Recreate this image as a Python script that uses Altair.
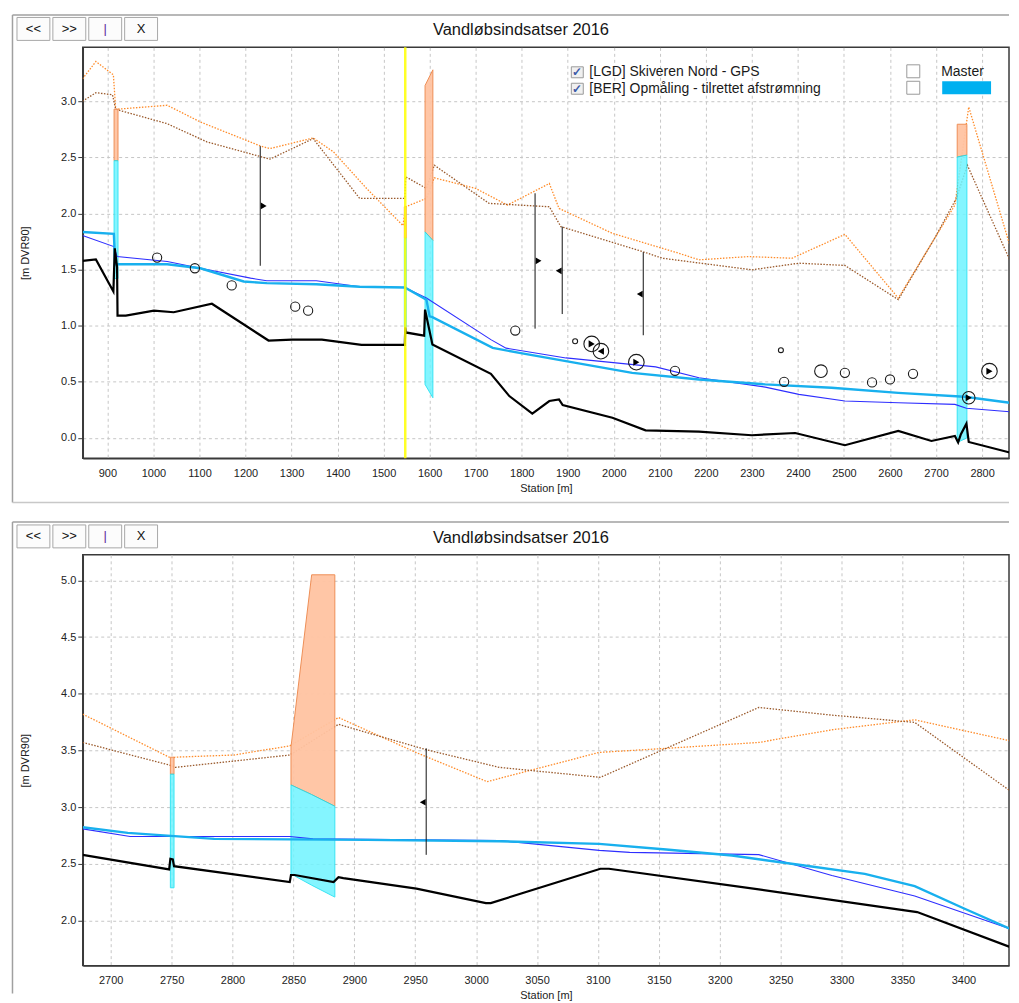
import altair as alt
import pandas as pd

# ---------------- texts ----------------
TITLE = "Vandløbsindsatser 2016"
BUTTON_LABELS = ["<<", ">>", "|", "X"]
LEGEND_LABELS = ["[LGD] Skiveren Nord - GPS", "[BER] Opmåling - tilrettet afstrømning"]
MASTER_LABEL = "Master"
X_TITLE = "Station [m]"
Y_TITLE = "[m DVR90]"

# ---------------- top panel data ----------------
T_XDOM = [846.5, 2858.5]
T_YDOM = [-0.18, 3.48]
T_XTICKS = [900, 1000, 1100, 1200, 1300, 1400, 1500, 1600, 1700, 1800, 1900, 2000,
            2100, 2200, 2300, 2400, 2500, 2600, 2700, 2800]
T_YTICKS = [0.0, 0.5, 1.0, 1.5, 2.0, 2.5, 3.0]

T_BED_X = [846, 875, 913, 916, 921, 922, 940, 1001, 1044, 1127, 1250, 1301, 1366, 1452,
           1546, 1547, 1548, 1588, 1590, 1606, 1733, 1773, 1823, 1860, 1881, 1889, 1997,
           2069, 2185, 2300, 2394, 2502, 2618, 2690, 2741, 2748, 2754, 2766, 2771, 2860]
T_BED_Y = [1.578, 1.59, 1.305, 1.69, 1.52, 1.09, 1.09, 1.134, 1.12, 1.196, 0.868, 0.876,
           0.876, 0.829, 0.829, 0.986, 0.94, 0.912, 1.143, 0.832, 0.571, 0.373, 0.216,
           0.329, 0.344, 0.293, 0.18, 0.068, 0.056, 0.024, 0.044, -0.065, 0.062, -0.027,
           0.018, -0.04, 0.033, 0.127, -0.036, -0.13]

T_WL_X = [846, 914, 917, 1030, 1102, 1196, 1246, 1354, 1448, 1546, 1593, 1600, 1606,
          1737, 1795, 1896, 2040, 2185, 2329, 2473, 2618, 2762, 2860]
T_WL_Y = [1.835, 1.818, 1.548, 1.548, 1.512, 1.394, 1.379, 1.37, 1.347, 1.341, 1.232,
          1.083, 1.077, 0.802, 0.758, 0.684, 0.58, 0.521, 0.477, 0.447, 0.402, 0.367, 0.314]

T_WL2_X = [846, 914, 921, 1030, 1102, 1211, 1246, 1354, 1445, 1546, 1593, 1733, 1766,
           1896, 2091, 2185, 2329, 2402, 2502, 2618, 2741, 2766, 2860]
T_WL2_Y = [1.803, 1.705, 1.616, 1.572, 1.512, 1.424, 1.40, 1.40, 1.35, 1.341, 1.246,
           0.876, 0.80, 0.713, 0.633, 0.536, 0.453, 0.388, 0.329, 0.314, 0.299, 0.264, 0.234]

T_BANKL_X = [846, 875, 913, 918, 1030, 1102, 1232, 1253, 1347, 1391, 1463, 1542, 1548,
             1593, 1610, 1700, 1769, 1860, 1881, 1997, 2141, 2185, 2293, 2387, 2502, 2618,
             2697, 2741, 2771, 2860]
T_BANKL_Y = [3.20, 3.354, 3.235, 2.928, 2.964, 2.815, 2.602, 2.578, 2.673, 2.549, 2.223,
             1.892, 2.06, 2.134, 2.318, 2.223, 2.075, 2.267, 2.045, 1.823, 1.646, 1.587,
             1.616, 1.601, 1.814, 1.246, 1.779, 2.075, 2.949, 1.72]

T_BANKR_X = [846, 875, 911, 918, 1030, 1116, 1253, 1347, 1448, 1546, 1548, 1593, 1610,
             1729, 1860, 1885, 2062, 2106, 2300, 2402, 2502, 2618, 2697, 2744, 2768, 2860]
T_BANKR_Y = [3.0, 3.076, 3.058, 2.928, 2.80, 2.638, 2.484, 2.667, 2.134, 2.134, 2.327,
             2.223, 2.43, 2.09, 2.06, 1.883, 1.661, 1.601, 1.498, 1.557, 1.537, 1.232,
             1.779, 2.134, 2.43, 1.587]

T_BAND_ID = [1, 1, 2, 2, 3, 3, 4, 4]
T_BAND_X = [914.5, 923, 1545, 1549, 1590, 1607, 2746, 2767]
T_BAND_TOP = [2.93, 2.93, 2.06, 2.06, 3.14, 3.28, 2.795, 2.795]
T_BAND_MID = [2.47, 2.47, 1.78, 1.78, 1.836, 1.76, 2.504, 2.52]
T_BAND_BOT = [1.42, 1.42, 0.99, 0.99, 0.477, 0.358, -0.04, 0.0]

T_FLAG_X = [1232, 1829, 1888, 2064]
T_FLAG_TOP = [2.60, 2.18, 1.883, 1.655]
T_FLAG_BOT = [1.534, 0.974, 1.104, 0.915]
T_FLAG_Y = [2.067, 1.578, 1.489, 1.282]
T_FLAG_DIR = ["R", "R", "L", "L"]

T_PT_X = [1008, 1090, 1170, 1308, 1336, 1786, 1916, 1952, 1972, 2049, 2133, 2363, 2370,
          2450, 2502, 2561, 2600, 2650, 2771, 2816]
T_PT_Y = [1.607, 1.512, 1.359, 1.17, 1.134, 0.957, 0.861, 0.838, 0.773, 0.675, 0.598,
          0.782, 0.50, 0.595, 0.58, 0.495, 0.521, 0.571, 0.358, 0.595]
T_PT_MAG = [2, 2, 2, 2, 2, 2, 1, 4, 4, 4, 2, 1, 2, 3, 2, 2, 2, 2, 3, 4]
T_PT_DIR = ["", "", "", "", "", "", "", "R", "L", "R", "", "", "", "", "", "", "", "",
            "R", "R"]

T_YELLOW_X = [1547]

# ---------------- bottom panel data ----------------
B_XDOM = [2677.1, 3437.4]
B_YDOM = [1.6, 5.226]
B_XTICKS = [2700, 2750, 2800, 2850, 2900, 2950, 3000, 3050, 3100, 3150, 3200, 3250,
            3300, 3350, 3400]
B_YTICKS = [2.0, 2.5, 3.0, 3.5, 4.0, 4.5, 5.0]

B_BED_X = [2677, 2748, 2749, 2751, 2752, 2847, 2848, 2851, 2883, 2887, 2891, 2951, 3008,
           3012, 3102, 3109, 3232, 3362, 3438]
B_BED_Y = [2.578, 2.449, 2.543, 2.537, 2.478, 2.337, 2.40, 2.40, 2.337, 2.381, 2.373,
           2.28, 2.152, 2.152, 2.455, 2.455, 2.273, 2.073, 1.765]

B_WL_X = [2677, 2714, 2785, 2910, 3019, 3101, 3156, 3210, 3265, 3319, 3360, 3401, 3438]
B_WL_Y = [2.822, 2.772, 2.719, 2.71, 2.698, 2.675, 2.625, 2.572, 2.49, 2.41, 2.302,
          2.102, 1.926]

B_WL2_X = [2677, 2716, 2847, 2866, 3019, 3101, 3126, 3232, 3292, 3360, 3438]
B_WL2_Y = [2.807, 2.74, 2.74, 2.719, 2.704, 2.617, 2.60, 2.58, 2.396, 2.214, 1.926]

B_BANKL_X = [2677, 2750, 2753, 2801, 2847, 2887, 2951, 3009, 3101, 3156, 3232, 3292,
             3360, 3438]
B_BANKL_Y = [3.82, 3.43, 3.44, 3.459, 3.54, 3.79, 3.48, 3.224, 3.482, 3.518, 3.57,
             3.682, 3.77, 3.585]

B_BANKR_X = [2677, 2750, 2753, 2847, 2887, 2959, 3019, 3102, 3232, 3292, 3360, 3438]
B_BANKR_Y = [3.57, 3.365, 3.35, 3.459, 3.73, 3.506, 3.35, 3.262, 3.879, 3.811, 3.747,
             3.145]

B_BAND_ID = [1, 1, 2, 2, 2]
B_BAND_X = [2749, 2752, 2848, 2865, 2884]
B_BAND_TOP = [3.44, 3.44, 3.53, 5.05, 5.05]
B_BAND_MID = [3.29, 3.29, 3.195, 3.11, 3.007]
B_BAND_BOT = [2.287, 2.287, 2.41, 2.31, 2.205]

B_FLAG_X = [2959]
B_FLAG_TOP = [3.518]
B_FLAG_BOT = [2.578]
B_FLAG_Y = [3.042]
B_FLAG_DIR = ["L"]

# ---------------- styles ----------------
FONT = "Liberation Sans"
W, H = 929, 412
C_BED = "#000000"
C_WL = "#18b0ee"
C_WL2 = "#2e2eff"
C_BANKL = "#ff8c2a"
C_BANKR = "#9a5a2c"
C_BAND_O = "#ffc3a2"
C_BAND_O_S = "#ee8a4e"
C_BAND_C = "#6ff4ff"
C_BAND_C_S = "#16e0f2"
C_FRAME = "#a0a0a0"
C_AXIS = "#3a3a3a"

ONE = pd.DataFrame({"k": [0]})


def deco_rule(x, y, x2=None, y2=None, color=C_FRAME, width=1.5):
    enc = {"x": alt.value(x), "y": alt.value(y)}
    if x2 is not None:
        enc["x2"] = alt.value(x2)
    if y2 is not None:
        enc["y2"] = alt.value(y2)
    return alt.Chart(ONE).mark_rule(color=color, strokeWidth=width).encode(**enc)


def deco_rect(x, x2, y, y2, fill, stroke=None, sw=1):
    kw = {"fill": fill}
    if stroke is not None:
        kw["stroke"] = stroke
        kw["strokeWidth"] = sw
    return alt.Chart(ONE).mark_rect(**kw).encode(
        x=alt.value(x), x2=alt.value(x2), y=alt.value(y), y2=alt.value(y2))


def deco_text(txt, x, y, size, color="#111111", align="center", weight="normal"):
    return alt.Chart(ONE).mark_text(
        text=txt, align=align, baseline="middle", font=FONT, fontSize=size,
        color=color, fontWeight=weight).encode(x=alt.value(x), y=alt.value(y))


def line_df(xs, ys):
    return pd.DataFrame({"x": xs, "y": ys, "i": list(range(len(xs)))})


def panel(p, with_legend, frame_bottom):
    xs = alt.Scale(domain=p["xdom"], nice=False, zero=False)
    ys = alt.Scale(domain=p["ydom"], nice=False, zero=False)
    xax = alt.Axis(values=p["xticks"], title=X_TITLE, ticks=False, tickSize=0,
                   labelPadding=9, titlePadding=4, format="d", labelFlush=False,
                   labelOverlap=False)
    yax = alt.Axis(values=p["yticks"], title=Y_TITLE, format=".1f", tickSize=5,
                   labelPadding=2, titlePadding=30, labelFlush=False)

    def X(f="x"):
        return alt.X(f"{f}:Q", scale=xs, axis=xax)

    def Y(f="y"):
        return alt.Y(f"{f}:Q", scale=ys, axis=yax)

    layers = []
    # frame
    ftop = p["frame_top"]
    layers.append(deco_rule(-70.5, ftop, x2=W, color=C_FRAME))
    layers.append(deco_rule(-70.5, ftop, y2=frame_bottom, color=C_FRAME))
    if p["draw_frame_bottom"]:
        layers.append(deco_rule(-70.5, frame_bottom, x2=W, color="#c8c8c8"))
    # buttons
    bx = [-66, -30, 6, 42]
    for lbl, x0 in zip(BUTTON_LABELS, bx):
        layers.append(deco_rect(x0, x0 + 33, -30, -7, "#fcfcfc", "#a8a8a8", 1))
        layers.append(deco_text(lbl, x0 + 16.5, -18.5, 13,
                                color="#5a2a9a" if lbl == "|" else "#111111"))
    # title
    layers.append(deco_text(TITLE, 439.5, -17, 16.5, color="#151515"))
    # legend
    if with_legend:
        for k, lbl in enumerate(LEGEND_LABELS):
            yc = 25 + 16.5 * k
            layers.append(deco_rect(490, 502, yc - 5.5, yc + 5.5, "#f0f0f0", "#9a9a9a", 1))
            layers.append(deco_text("✓", 496, yc, 12, color="#3a5aa8", weight="bold"))
            layers.append(deco_text(lbl, 508, yc, 14, color="#1a1a1a", align="left"))
            layers.append(deco_rect(826.5, 839.5, yc - 7.5, yc + 5.5,
                                    "#ffffff", "#9a9a9a", 1))
        layers.append(deco_text(MASTER_LABEL, 861, 24.5, 14, color="#1a1a1a", align="left"))
        layers.append(deco_rect(862, 911, 34, 47, "#00b0f0"))

    # bank lines (dotted)
    for bx_, by_, col in [(p["bankl_x"], p["bankl_y"], C_BANKL),
                          (p["bankr_x"], p["bankr_y"], C_BANKR)]:
        layers.append(alt.Chart(line_df(bx_, by_)).mark_line(
            color=col, strokeWidth=1.3, strokeDash=[1.5, 1.5], clip=True).encode(
            x=X(), y=Y(), order="i:Q"))

    # bands
    bdf = pd.DataFrame({"band": p["band_id"], "x": p["band_x"], "top": p["band_top"],
                        "mid": p["band_mid"], "bot": p["band_bot"]})
    layers.append(alt.Chart(bdf).mark_area(
        fill=C_BAND_O, stroke=C_BAND_O_S, strokeWidth=1, opacity=0.95, clip=True).encode(
        x=X(), y=Y("top"), y2="mid:Q", detail="band:N"))
    layers.append(alt.Chart(bdf).mark_area(
        fill=C_BAND_C, stroke=C_BAND_C_S, strokeWidth=1, opacity=0.85, clip=True).encode(
        x=X(), y=Y("mid"), y2="bot:Q", detail="band:N"))

    # water levels
    layers.append(alt.Chart(line_df(p["wl2_x"], p["wl2_y"])).mark_line(
        color=C_WL2, strokeWidth=1.1, clip=True).encode(x=X(), y=Y(), order="i:Q"))
    layers.append(alt.Chart(line_df(p["wl_x"], p["wl_y"])).mark_line(
        color=C_WL, strokeWidth=2.4, clip=True).encode(x=X(), y=Y(), order="i:Q"))
    # bed
    layers.append(alt.Chart(line_df(p["bed_x"], p["bed_y"])).mark_line(
        color=C_BED, strokeWidth=2.2, clip=True).encode(x=X(), y=Y(), order="i:Q"))

    # yellow marker
    if p.get("yellow_x"):
        layers.append(alt.Chart(pd.DataFrame({"x": p["yellow_x"]})).mark_rule(
            color="#ffff00", strokeWidth=2.5, opacity=0.85).encode(x=X()))

    # flags
    fdf = pd.DataFrame({"x": p["flag_x"], "top": p["flag_top"], "bot": p["flag_bot"],
                        "y": p["flag_y"], "dir": p["flag_dir"]})
    layers.append(alt.Chart(fdf).mark_rule(color="#111111", strokeWidth=1).encode(
        x=X(), y=Y("top"), y2="bot:Q"))
    for d, shape, off in [("R", "triangle-right", 3.5), ("L", "triangle-left", -3.5)]:
        sub = fdf[fdf["dir"] == d]
        if len(sub):
            layers.append(alt.Chart(sub).mark_point(
                shape=shape, filled=True, color="#000000", size=45, xOffset=off,
                opacity=1).encode(x=X(), y=Y()))

    # circles
    if p.get("pt_x"):
        pdf = pd.DataFrame({"x": p["pt_x"], "y": p["pt_y"], "m": p["pt_mag"],
                            "dir": p["pt_dir"]})
        layers.append(alt.Chart(pdf).mark_point(
            shape="circle", filled=False, color="#1a1a1a", strokeWidth=1.1,
            opacity=1).encode(
            x=X(), y=Y(),
            size=alt.Size("m:Q", scale=alt.Scale(type="linear", domain=[1, 2, 3, 4],
                                                 range=[25, 85, 160, 245]), legend=None)))
        adf = pdf[pdf["dir"] != ""]
        layers.append(alt.Chart(adf).mark_point(
            filled=True, color="#000000", size=50, opacity=1).encode(
            x=X(), y=Y(),
            shape=alt.Shape("dir:N", scale=alt.Scale(domain=["R", "L"],
                                                     range=["triangle-right", "triangle-left"]),
                            legend=None)))

    return alt.layer(*layers).properties(width=W, height=H)


TOP = dict(xdom=T_XDOM, ydom=T_YDOM, xticks=T_XTICKS, yticks=T_YTICKS,
           bed_x=T_BED_X, bed_y=T_BED_Y, wl_x=T_WL_X, wl_y=T_WL_Y,
           wl2_x=T_WL2_X, wl2_y=T_WL2_Y, bankl_x=T_BANKL_X, bankl_y=T_BANKL_Y,
           bankr_x=T_BANKR_X, bankr_y=T_BANKR_Y, band_id=T_BAND_ID, band_x=T_BAND_X,
           band_top=T_BAND_TOP, band_mid=T_BAND_MID, band_bot=T_BAND_BOT,
           flag_x=T_FLAG_X, flag_top=T_FLAG_TOP, flag_bot=T_FLAG_BOT, flag_y=T_FLAG_Y,
           flag_dir=T_FLAG_DIR, pt_x=T_PT_X, pt_y=T_PT_Y, pt_mag=T_PT_MAG,
           pt_dir=T_PT_DIR, yellow_x=T_YELLOW_X, frame_top=-32.5, draw_frame_bottom=True)

BOT = dict(xdom=B_XDOM, ydom=B_YDOM, xticks=B_XTICKS, yticks=B_YTICKS,
           bed_x=B_BED_X, bed_y=B_BED_Y, wl_x=B_WL_X, wl_y=B_WL_Y,
           wl2_x=B_WL2_X, wl2_y=B_WL2_Y, bankl_x=B_BANKL_X, bankl_y=B_BANKL_Y,
           bankr_x=B_BANKR_X, bankr_y=B_BANKR_Y, band_id=B_BAND_ID, band_x=B_BAND_X,
           band_top=B_BAND_TOP, band_mid=B_BAND_MID, band_bot=B_BAND_BOT,
           flag_x=B_FLAG_X, flag_top=B_FLAG_TOP, flag_bot=B_FLAG_BOT, flag_y=B_FLAG_Y,
           flag_dir=B_FLAG_DIR, frame_top=-33, draw_frame_bottom=False)

top_chart = panel(TOP, True, 456.5)
bottom_chart = panel(BOT, False, 440)

chart = alt.vconcat(top_chart, bottom_chart, spacing=16).properties(
    padding={"left": 3, "top": 4, "right": 0, "bottom": 0},
    background="#ffffff",
).configure_view(
    stroke=C_AXIS, strokeWidth=1.5
).configure_axis(
    grid=True, gridColor="#c6c6c6", gridDash=[3, 3], gridWidth=1,
    domainColor=C_AXIS, domainWidth=1.5, tickColor=C_AXIS, tickWidth=1,
    labelFont=FONT, labelFontSize=11, labelColor="#222222",
    titleFont=FONT, titleFontSize=11, titleFontWeight="normal", titleColor="#222222",
)

chart.save("out.html", embed_options={"renderer": "svg", "actions": False})
